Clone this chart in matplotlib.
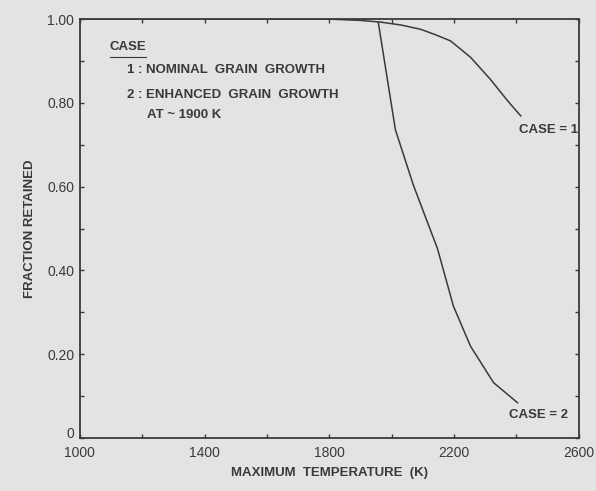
import numpy as np
import matplotlib.pyplot as plt
import matplotlib.transforms as mtransforms

# values
case1_T = [1000, 1400, 1800, 1900, 1964, 2030, 2092, 2140, 2189, 2253, 2317, 2372, 2414]
case1_f = [1.0, 1.0, 1.0, 0.997, 0.993, 0.986, 0.976, 0.963, 0.948, 0.909, 0.856, 0.805, 0.769]
case2_T = [1957, 2012, 2070, 2147, 2198, 2253, 2327, 2404]
case2_f = [0.993, 0.736, 0.603, 0.452, 0.315, 0.219, 0.132, 0.084]

x_ticks = [1000, 1400, 1800, 2200, 2600]
x_ticklabels = ['1000', '1400', '1800', '2200', '2600']
y_ticks = [0, 0.2, 0.4, 0.6, 0.8, 1.0]
y_ticklabels = ['0', '0.20', '0.40', '0.60', '0.80', '1.00']

bg = '#e3e3e1'
ink = '#3a3a3a'
plt.rcParams['font.family'] = ['Liberation Sans', 'DejaVu Sans']

fig = plt.figure(figsize=(5.96, 4.91), dpi=100, facecolor=bg)
ax = fig.add_axes([0.134, 0.108, 0.837, 0.853], facecolor=bg)

ax.plot(case1_T, case1_f, color=ink, lw=1.1)
ax.plot(case2_T, case2_f, color=ink, lw=1.1)

ax.set_xlim(1000, 2600)
ax.set_ylim(0, 1.0)
ax.set_xticks(x_ticks)
ax.set_xticklabels(x_ticklabels)
ax.set_xticks(np.arange(1000, 2601, 200), minor=True)
ax.set_yticks(y_ticks)
ax.set_yticklabels(y_ticklabels)
ax.set_yticks(np.arange(0, 1.01, 0.1), minor=True)
ax.tick_params(which='both', direction='in', top=True, right=True,
               length=3, width=1, color=ink, labelcolor=ink, labelsize=10)
ax.tick_params(axis='x', pad=6)
ax.tick_params(axis='y', pad=4)
for s in ax.spines.values():
    s.set_color(ink)
    s.set_linewidth(1.3)

# lift the "0" label a little so it clears "1000", as in the original
zero_lbl = ax.get_yticklabels()[0]
zero_lbl.set_transform(zero_lbl.get_transform() +
                       mtransforms.ScaledTranslation(0, 4 / 72, fig.dpi_scale_trans))

ax.set_xlabel('MAXIMUM  TEMPERATURE  (K)', fontsize=9.5, color=ink,
              fontweight='bold', labelpad=5)
ax.set_ylabel('FRACTION RETAINED', fontsize=9.5, color=ink,
              fontweight='bold', labelpad=8)

fs = 9.5
ax.text(1096, 0.933, 'CASE', fontsize=fs, color=ink, fontweight='bold', va='center')
ax.plot([1096, 1213], [0.91, 0.91], color=ink, lw=0.8)
ax.text(1150, 0.878, '1 : NOMINAL  GRAIN  GROWTH', fontsize=fs, color=ink,
        fontweight='bold', va='center')
ax.text(1150, 0.819, '2 : ENHANCED  GRAIN  GROWTH', fontsize=fs, color=ink,
        fontweight='bold', va='center')
ax.text(1215, 0.771, 'AT ~ 1900 K', fontsize=fs, color=ink, fontweight='bold',
        va='center')

ax.text(2407, 0.736, 'CASE = 1', fontsize=fs, color=ink, fontweight='bold',
        va='center')
ax.text(2375, 0.055, 'CASE = 2', fontsize=fs, color=ink, fontweight='bold',
        va='center')

fig.savefig('out.png', dpi=100, facecolor=bg)
